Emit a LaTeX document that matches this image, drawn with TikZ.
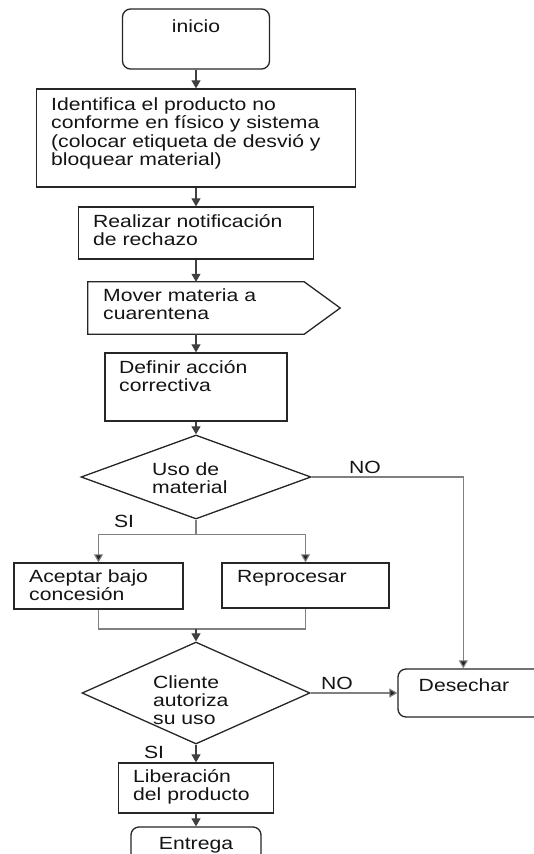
\documentclass[tikz,border=0pt]{standalone}
\usepackage{fontspec}
\setmainfont[FakeStretch=1.2]{Liberation Sans}
\usetikzlibrary{arrows.meta,shapes.geometric,calc}
\begin{document}
\begin{tikzpicture}[x=1bp,y=-1bp,
  boxst/.style={draw=black!85, line width=1.3bp, rectangle, inner sep=0pt},
  termst/.style={boxst, rounded corners=8bp},
  decst/.style={draw=black!85, line width=1.3bp, diamond, inner sep=0pt},
  txt/.style={anchor=base west, inner sep=0pt, text=black!92, font=\fontsize{17.7}{18.5}\selectfont},
  ctxt/.style={anchor=base, inner sep=0pt, text=black!92, font=\fontsize{17.7}{18.5}\selectfont},
  arr/.style={draw=black!75, line width=1.1bp, -{Triangle[length=8bp,width=9bp]}},
  garr/.style={draw=black!50, line width=1.1bp, -{Triangle[length=8bp,width=9bp,fill=black!85]}},
  lnk/.style={draw=black!50, line width=1.1bp}
]
\useasboundingbox (0,0) rectangle (534,854);
\fill[white] (0,0) rectangle (534,854);
\clip (0,0) rectangle (534,854);

% nodes
\node[termst, minimum width=147bp, minimum height=60bp] (inicio) at (196,39) {};
\node[ctxt] (tinicio) at (196,32) {inicio};

\node[boxst, minimum width=319bp, minimum height=98bp] (ident) at (196,138) {};
\node[txt] (tident) at (51,110) {\begin{tabular}[t]{@{}l@{}}Identifica el producto no\\conforme en físico y sistema\\(colocar etiqueta de desvió y\\bloquear material)\end{tabular}};

\node[boxst, minimum width=235bp, minimum height=52bp] (realiz) at (196,233) {};
\node[txt] (trealiz) at (93,227) {\begin{tabular}[t]{@{}l@{}}Realizar notificación\\de rechazo\end{tabular}};

\node[inner sep=0pt, minimum width=216bp, minimum height=52bp] (pent) at (196,308) {};
\draw[draw=black!85, line width=1.3bp] (pent.north west) -- (pent.north east) -- ($(pent.east)+(36,0)$) -- (pent.south east) -- (pent.south west) -- cycle;
\node[txt] (tpent) at (103,301) {\begin{tabular}[t]{@{}l@{}}Mover materia a\\cuarentena\end{tabular}};

\node[boxst, minimum width=182bp, minimum height=68bp] (defin) at (196,387) {};
\node[txt] (tdefin) at (119,373) {\begin{tabular}[t]{@{}l@{}}Definir acción\\correctiva\end{tabular}};

\node[decst, minimum width=230bp, minimum height=84bp] (dec1) at (196,477) {};
\node[txt] (tdec1) at (152,475) {\begin{tabular}[t]{@{}l@{}}Uso de\\material\end{tabular}};

\node[boxst, minimum width=169bp, minimum height=46bp] (acep) at (98.5,586) {};
\node[txt] (tacep) at (29,582) {\begin{tabular}[t]{@{}l@{}}Aceptar bajo\\concesión\end{tabular}};

\node[boxst, minimum width=167bp, minimum height=45bp] (repr) at (305.5,585.5) {};
\node[txt] (trepr) at (237,582) {Reprocesar};

\node[decst, minimum width=228bp, minimum height=102bp] (dec2) at (196,693) {};
\node[txt] (tdec2) at (153,688) {\begin{tabular}[t]{@{}l@{}}Cliente\\autoriza\\su uso\end{tabular}};

\node[termst, minimum width=150bp, minimum height=48bp] (des) at (473,693) {};
\node[ctxt] (tdes) at (464,691) {Desechar};

\node[boxst, minimum width=155bp, minimum height=50bp] (lib) at (196,788) {};
\node[txt] (tlib) at (133,782) {\begin{tabular}[t]{@{}l@{}}Liberación\\del producto\end{tabular}};

\node[termst, minimum width=130bp, minimum height=60bp] (entr) at (196,857) {};
\node[ctxt] (tentr) at (196,849) {Entrega};

% labels
\node[ctxt] (no1) at (365,473) {NO};
\node[ctxt] (si1) at (124,527) {SI};
\node[ctxt] (no2) at (337,689) {NO};
\node[ctxt] (si2) at (154,758) {SI};

% connectors
\draw[arr] (inicio.south) -- (inicio.south |- ident.north);
\draw[arr] (ident.south) -- (ident.south |- realiz.north);
\draw[arr] (realiz.south) -- (realiz.south |- pent.north);
\draw[arr] (pent.south) -- (pent.south |- defin.north);
\draw[arr] (defin.south) -- (defin.south |- dec1.north);

\coordinate (b1) at ($(dec1.south)+(0,15)$);
\draw[lnk] (dec1.south) -- (b1);
\draw[garr] (b1) -| (acep.north);
\draw[garr] (b1) -| (repr.north);

\coordinate (m1) at (196,629);
\draw[lnk] (acep.south) |- (m1);
\draw[lnk] (repr.south) |- (m1);
\draw[arr] (m1) -- (dec2.north);

\coordinate (dtop) at ($(des.north west)+(66,0)$);
\draw[garr] (dec1.east) -| (dtop);
\draw[garr] (dec2.east) -- (des.west);

\draw[arr] (dec2.south) -- (dec2.south |- lib.north);
\draw[arr] (lib.south) -- (lib.south |- entr.north);
\end{tikzpicture}
\end{document}
